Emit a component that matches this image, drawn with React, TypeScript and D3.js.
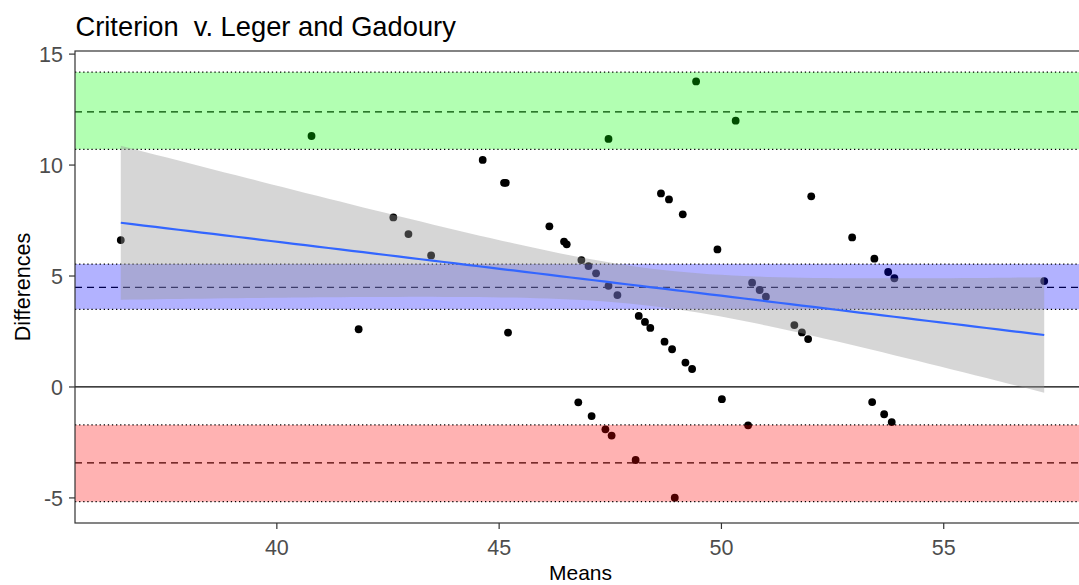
import React from "react";
import * as d3 from "d3";

// Bland–Altman comparison: mean of the two methods vs. their difference
const meanX: number[] = [
  36.49, 40.78, 41.84, 42.62, 42.96, 43.47, 44.63, 45.11, 45.15, 45.2,
  46.13, 46.46, 46.52, 46.78, 46.85, 47.01, 47.08, 47.18, 47.39, 47.46,
  47.46, 47.53, 47.66, 48.07, 48.14, 48.28, 48.4, 48.64, 48.72, 48.82,
  48.89, 48.95, 49.13, 49.19, 49.34, 49.43, 49.91, 50.01, 50.32, 50.6,
  50.69, 50.86, 51.0, 51.64, 51.81, 51.95, 52.02, 52.94, 53.39, 53.44,
  53.66, 53.75, 53.83, 53.89, 57.26,
];
const diffY: number[] = [
  6.62, 11.31, 2.6, 7.64, 6.89, 5.93, 10.23, 9.2, 9.2, 2.45,
  7.24, 6.55, 6.43, -0.69, 5.72, 5.45, -1.31, 5.12, -1.91, 11.18,
  4.56, -2.19, 4.14, -3.29, 3.2, 2.93, 2.66, 8.72, 2.04, 8.45,
  1.7, -4.99, 7.78, 1.1, 0.81, 13.77, 6.2, -0.55, 12.0, -1.73,
  4.7, 4.37, 4.07, 2.79, 2.46, 2.16, 8.59, 6.74, -0.68, 5.78,
  -1.23, 5.18, -1.58, 4.9, 4.77,
];

// Bias and limits of agreement: [estimate, CI low, CI high]
const bandNames = ["upper", "bias", "lower"];
const bandEstimate = [12.4, 4.49, -3.42];
const bandLow = [10.71, 3.5, -5.17];
const bandHigh = [14.19, 5.54, -1.71];
const bandFill = ["rgba(0,255,0,0.3)", "rgba(0,0,255,0.3)", "rgba(255,0,0,0.3)"];

// Linear trend of the differences with its 95% confidence ribbon
const fitIntercept = 16.29;
const fitSlope = -0.2436;
const fitCentre = 48.49;
const fitHalfWidthCentre = 0.84;
const fitHalfWidthSpread = 0.0787;

const xTicks = [40, 45, 50, 55];
const yTicks = [-5, 0, 5, 10, 15];

const W = 1079;
const H = 585;
const panel = { left: 75, right: 1086, top: 51, bottom: 523 };
const FONT = "'Liberation Sans', Arial, sans-serif";

export default function App() {
  const x = d3.scaleLinear().domain([35.46, 58.2]).range([panel.left, panel.right]);
  const y = d3.scaleLinear().domain([-6.13, 15.14]).range([panel.bottom, panel.top]);

  const [xMin, xMax] = d3.extent(meanX) as [number, number];
  const grid = d3.range(0, 81).map((i) => xMin + ((xMax - xMin) * i) / 80);
  const fit = (v: number) => fitIntercept + fitSlope * v;
  const half = (v: number) =>
    Math.sqrt(fitHalfWidthCentre ** 2 + fitHalfWidthSpread * (v - fitCentre) ** 2);

  const ribbon = d3
    .area<number>()
    .x((v) => x(v))
    .y0((v) => y(fit(v) - half(v)))
    .y1((v) => y(fit(v) + half(v)))(grid);
  const trend = d3
    .line<number>()
    .x((v) => x(v))
    .y((v) => y(fit(v)))(grid);

  const pw = panel.right - panel.left;
  const ph = panel.bottom - panel.top;

  return (
    <svg
      width={W}
      height={H}
      style={{ position: "absolute", left: 0, top: 0, background: "#fff" }}
      fontFamily={FONT}
    >
      <defs>
        <clipPath id="panel-clip">
          <rect x={panel.left} y={panel.top} width={pw} height={ph} />
        </clipPath>
      </defs>

      <text x={75.5} y={36} fontSize={27.3} fill="#000" style={{ whiteSpace: "pre" }}>
        {"Criterion  v. Leger and Gadoury"}
      </text>

      <g clipPath="url(#panel-clip)">
        <rect x={panel.left} y={panel.top} width={pw} height={ph} fill="#fff" />

        {meanX.map((m, i) => (
          <circle key={i} cx={x(m)} cy={y(diffY[i])} r={3.9} fill="#000" />
        ))}

        {bandEstimate.map((v, i) => (
          <line
            key={"est-" + bandNames[i]}
            x1={panel.left}
            x2={panel.right}
            y1={y(v)}
            y2={y(v)}
            stroke="#000"
            strokeWidth={1.2}
            strokeDasharray="7,5"
          />
        ))}

        <line
          x1={panel.left}
          x2={panel.right}
          y1={y(0)}
          y2={y(0)}
          stroke="#000"
          strokeWidth={1.2}
        />

        {bandEstimate.map((_, i) => (
          <rect
            key={"band-" + bandNames[i]}
            x={panel.left}
            width={pw}
            y={y(bandHigh[i])}
            height={y(bandLow[i]) - y(bandHigh[i])}
            fill={bandFill[i]}
          />
        ))}

        {bandEstimate.map((_, i) => (
          <g key={"ci-" + bandNames[i]}>
            {[bandLow[i], bandHigh[i]].map((v, j) => (
              <line
                key={j}
                x1={panel.left}
                x2={panel.right}
                y1={y(v)}
                y2={y(v)}
                stroke="#000"
                strokeWidth={1.3}
                strokeDasharray="1.3,2.8"
              />
            ))}
          </g>
        ))}

        <path d={ribbon ?? ""} fill="rgba(153,153,153,0.4)" />
        <path d={trend ?? ""} fill="none" stroke="#3366FF" strokeWidth={2.2} />
      </g>

      <rect
        x={panel.left}
        y={panel.top}
        width={pw}
        height={ph}
        fill="none"
        stroke="#333"
        strokeWidth={1.2}
      />

      {yTicks.map((t) => (
        <g key={"yt" + t}>
          <line x1={panel.left - 6} x2={panel.left} y1={y(t)} y2={y(t)} stroke="#333" strokeWidth={1.2} />
          <text
            x={63}
            y={y(t)}
            dy="0.36em"
            textAnchor="end"
            fontSize={21.5}
            fill="#4d4d4d"
          >
            {t}
          </text>
        </g>
      ))}

      {xTicks.map((t) => (
        <g key={"xt" + t}>
          <line x1={x(t)} x2={x(t)} y1={panel.bottom} y2={panel.bottom + 6} stroke="#333" strokeWidth={1.2} />
          <text x={x(t)} y={555} textAnchor="middle" fontSize={21.5} fill="#4d4d4d">
            {t}
          </text>
        </g>
      ))}

      <text x={(panel.left + panel.right) / 2} y={580} textAnchor="middle" fontSize={21} fill="#000">
        Means
      </text>
      <text
        transform={`translate(30, ${(panel.top + panel.bottom) / 2}) rotate(-90)`}
        textAnchor="middle"
        fontSize={21.5}
        fill="#000"
      >
        Differences
      </text>
    </svg>
  );
}
